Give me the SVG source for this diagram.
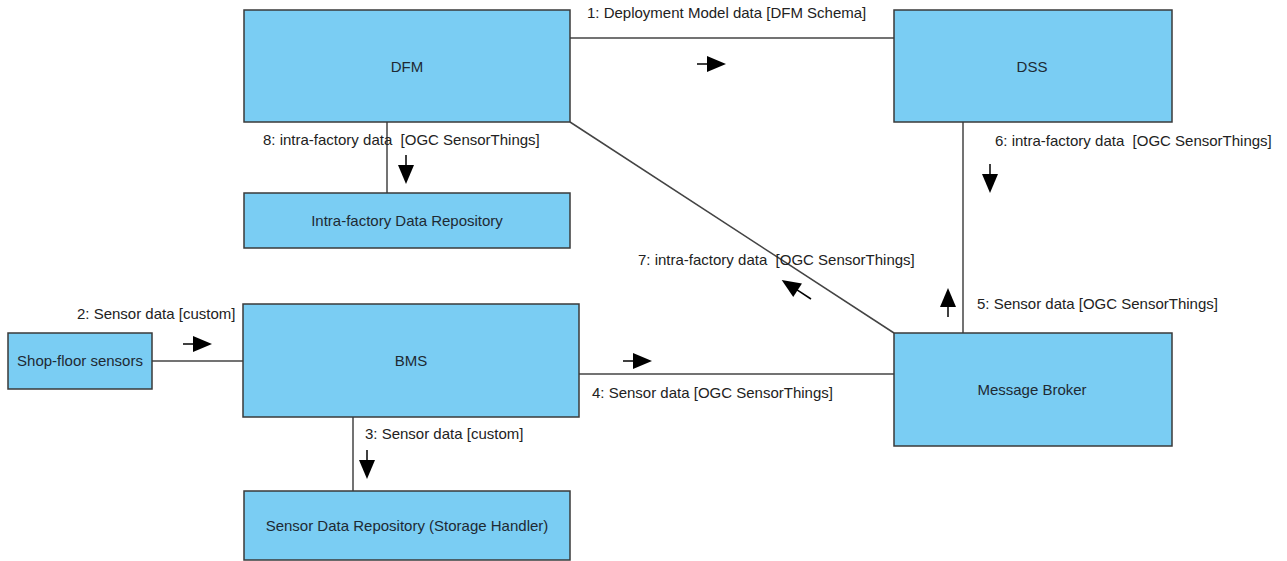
<svg xmlns="http://www.w3.org/2000/svg" xmlns:xlink="http://www.w3.org/1999/xlink" width="1287" height="561" viewBox="0 0 1287 561">
  <style>
    .node rect { fill: #7acdf3; stroke: #3a3a3a; stroke-width: 1.5; }
    .node text { font-family: "Liberation Sans", Arial, sans-serif; font-size: 15px; fill: #1e2a33; text-anchor: middle; }
    .edge { stroke: #444; stroke-width: 1.5; fill: none; }
    .lbl { font-family: "Liberation Sans", Arial, sans-serif; font-size: 15px; fill: #222; white-space: pre; }
  </style>
  <defs>
    <!-- message direction marker: short stem plus filled head, pointing along +x -->
    <g id="flow">
      <line x1="0" y1="0" x2="12" y2="0" stroke="#000" stroke-width="1.5"/>
      <polygon points="10,-8 29,0 10,8" fill="#000"/>
    </g>
    <g id="flow-long">
      <line x1="0" y1="0" x2="18" y2="0" stroke="#000" stroke-width="1.5"/>
      <polygon points="16,-8 35,0 16,8" fill="#000"/>
    </g>
  </defs>
  <rect width="1287" height="561" fill="#fff"/>

  <!-- connectors -->
  <g id="connectors">
    <line class="edge" x1="570" y1="38" x2="894" y2="38"/>
    <line class="edge" x1="152" y1="361" x2="243" y2="361"/>
    <line class="edge" x1="353" y1="417" x2="353" y2="491"/>
    <line class="edge" x1="579" y1="374" x2="894" y2="374"/>
    <line class="edge" x1="963" y1="122" x2="963" y2="333"/>
    <line class="edge" x1="570" y1="122" x2="894" y2="333"/>
    <line class="edge" x1="387" y1="122" x2="387" y2="193"/>

    <use xlink:href="#flow" transform="translate(697,64)"/>
    <use xlink:href="#flow" transform="translate(183,344)"/>
    <use xlink:href="#flow" transform="translate(623,361)"/>
    <use xlink:href="#flow" transform="translate(367,450) rotate(90)"/>
    <use xlink:href="#flow" transform="translate(406,155) rotate(90)"/>
    <use xlink:href="#flow" transform="translate(990,164) rotate(90)"/>
    <use xlink:href="#flow" transform="translate(948,317) rotate(-90)"/>
    <use xlink:href="#flow-long" transform="translate(811,299) rotate(213.1)"/>

    <text class="lbl" x="587" y="18">1: Deployment Model data [DFM Schema]</text>
    <text class="lbl" x="77" y="319">2: Sensor data [custom]</text>
    <text class="lbl" x="365" y="439">3: Sensor data [custom]</text>
    <text class="lbl" x="592" y="398">4: Sensor data [OGC SensorThings]</text>
    <text class="lbl" x="977" y="309">5: Sensor data [OGC SensorThings]</text>
    <text class="lbl" x="995" y="146" xml:space="preserve">6: intra-factory data  [OGC SensorThings]</text>
    <text class="lbl" x="638" y="265" xml:space="preserve">7: intra-factory data  [OGC SensorThings]</text>
    <text class="lbl" x="263" y="145" xml:space="preserve">8: intra-factory data  [OGC SensorThings]</text>
  </g>

  <!-- nodes -->
  <g id="dfm" class="node">
    <rect x="244" y="10" width="326" height="112"/>
    <text x="407" y="72">DFM</text>
  </g>
  <g id="dss" class="node">
    <rect x="894" y="10" width="278" height="112"/>
    <text x="1032" y="72">DSS</text>
  </g>
  <g id="intra-factory-repo" class="node">
    <rect x="244" y="193" width="326" height="55"/>
    <text x="407" y="226">Intra-factory Data Repository</text>
  </g>
  <g id="shop-floor-sensors" class="node">
    <rect x="8" y="333" width="144" height="56"/>
    <text x="80" y="366">Shop-floor sensors</text>
  </g>
  <g id="bms" class="node">
    <rect x="243" y="304" width="336" height="113"/>
    <text x="411" y="366">BMS</text>
  </g>
  <g id="message-broker" class="node">
    <rect x="894" y="333" width="278" height="113"/>
    <text x="1032" y="395">Message Broker</text>
  </g>
  <g id="sensor-data-repo" class="node">
    <rect x="244" y="491" width="326" height="69"/>
    <text x="407" y="531">Sensor Data Repository (Storage Handler)</text>
  </g>
</svg>
